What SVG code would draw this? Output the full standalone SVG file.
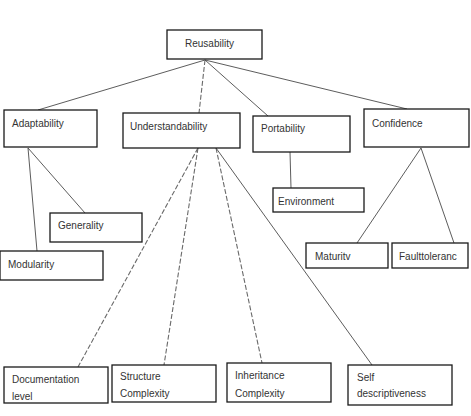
<svg xmlns="http://www.w3.org/2000/svg" width="471" height="416" viewBox="0 0 471 416">
  <style>
    .box { fill: #ffffff; stroke: #1a1a1a; stroke-width: 1.3; }
    .lbl { font-family: "Liberation Sans", Arial, sans-serif; font-size: 10px; fill: #333333; }
    .edge { stroke: #4a4a4a; stroke-width: 0.9; fill: none; }
    .dash { stroke: #6a6a6a; stroke-width: 1.1; stroke-dasharray: 5 2; fill: none; }
  </style>
  <rect width="471" height="416" fill="#ffffff"/>

  <!-- connectors -->
  <g id="connectors">
    <line class="edge" x1="205" y1="60" x2="38" y2="110"/>
    <line class="dash" x1="205" y1="60" x2="199" y2="113"/>
    <line class="edge" x1="205" y1="60" x2="268" y2="116"/>
    <line class="edge" x1="205" y1="60" x2="407" y2="109"/>

    <line class="edge" x1="28" y1="148" x2="37" y2="251"/>
    <line class="edge" x1="28" y1="148" x2="85" y2="213"/>

    <line class="dash" x1="198" y1="148" x2="78" y2="367"/>
    <line class="dash" x1="198" y1="148" x2="164" y2="365"/>
    <line class="dash" x1="216" y1="148" x2="262" y2="363"/>
    <line class="edge" x1="216" y1="148" x2="372" y2="365"/>

    <line class="edge" x1="290" y1="152" x2="291" y2="188"/>

    <line class="edge" x1="421" y1="148" x2="357" y2="243"/>
    <line class="edge" x1="421" y1="148" x2="454" y2="243"/>
  </g>

  <g id="reusability">
    <rect class="box" x="167" y="30" width="95" height="29"/>
    <text class="lbl" x="185" y="47">Reusability</text>
  </g>
  <g id="adaptability">
    <rect class="box" x="4" y="110" width="93" height="37"/>
    <text class="lbl" x="12" y="127">Adaptability</text>
  </g>
  <g id="understandability">
    <rect class="box" x="123" y="113" width="117" height="35"/>
    <text class="lbl" x="130" y="130">Understandability</text>
  </g>
  <g id="portability">
    <rect class="box" x="253" y="116" width="97" height="36"/>
    <text class="lbl" x="261" y="132">Portability</text>
  </g>
  <g id="confidence">
    <rect class="box" x="364" y="109" width="105" height="38"/>
    <text class="lbl" x="372" y="127">Confidence</text>
  </g>
  <g id="generality">
    <rect class="box" x="50" y="213" width="92" height="29"/>
    <text class="lbl" x="58" y="229">Generality</text>
  </g>
  <g id="modularity">
    <rect class="box" x="0" y="251" width="103" height="29"/>
    <text class="lbl" x="8" y="268">Modularity</text>
  </g>
  <g id="environment">
    <rect class="box" x="273" y="188" width="91" height="24"/>
    <text class="lbl" x="278" y="205">Environment</text>
  </g>
  <g id="maturity">
    <rect class="box" x="306" y="243" width="82" height="25"/>
    <text class="lbl" x="315" y="260">Maturitv</text>
  </g>
  <g id="faulttolerance">
    <rect class="box" x="392" y="243" width="76" height="25"/>
    <text class="lbl" x="399" y="260">Faulttoleranc</text>
  </g>
  <g id="documentation">
    <rect class="box" x="4" y="367" width="104" height="36"/>
    <text class="lbl" x="12" y="383">Documentation</text>
    <text class="lbl" x="12" y="400">level</text>
  </g>
  <g id="structure">
    <rect class="box" x="112" y="365" width="104" height="37"/>
    <text class="lbl" x="120" y="380">Structure</text>
    <text class="lbl" x="120" y="397">Complexity</text>
  </g>
  <g id="inheritance">
    <rect class="box" x="227" y="363" width="104" height="39"/>
    <text class="lbl" x="235" y="379">Inheritance</text>
    <text class="lbl" x="235" y="397">Complexity</text>
  </g>
  <g id="self-descriptiveness">
    <rect class="box" x="348" y="365" width="104" height="40"/>
    <text class="lbl" x="357" y="381">Self</text>
    <text class="lbl" x="357" y="397">descriptiveness</text>
  </g>
</svg>
